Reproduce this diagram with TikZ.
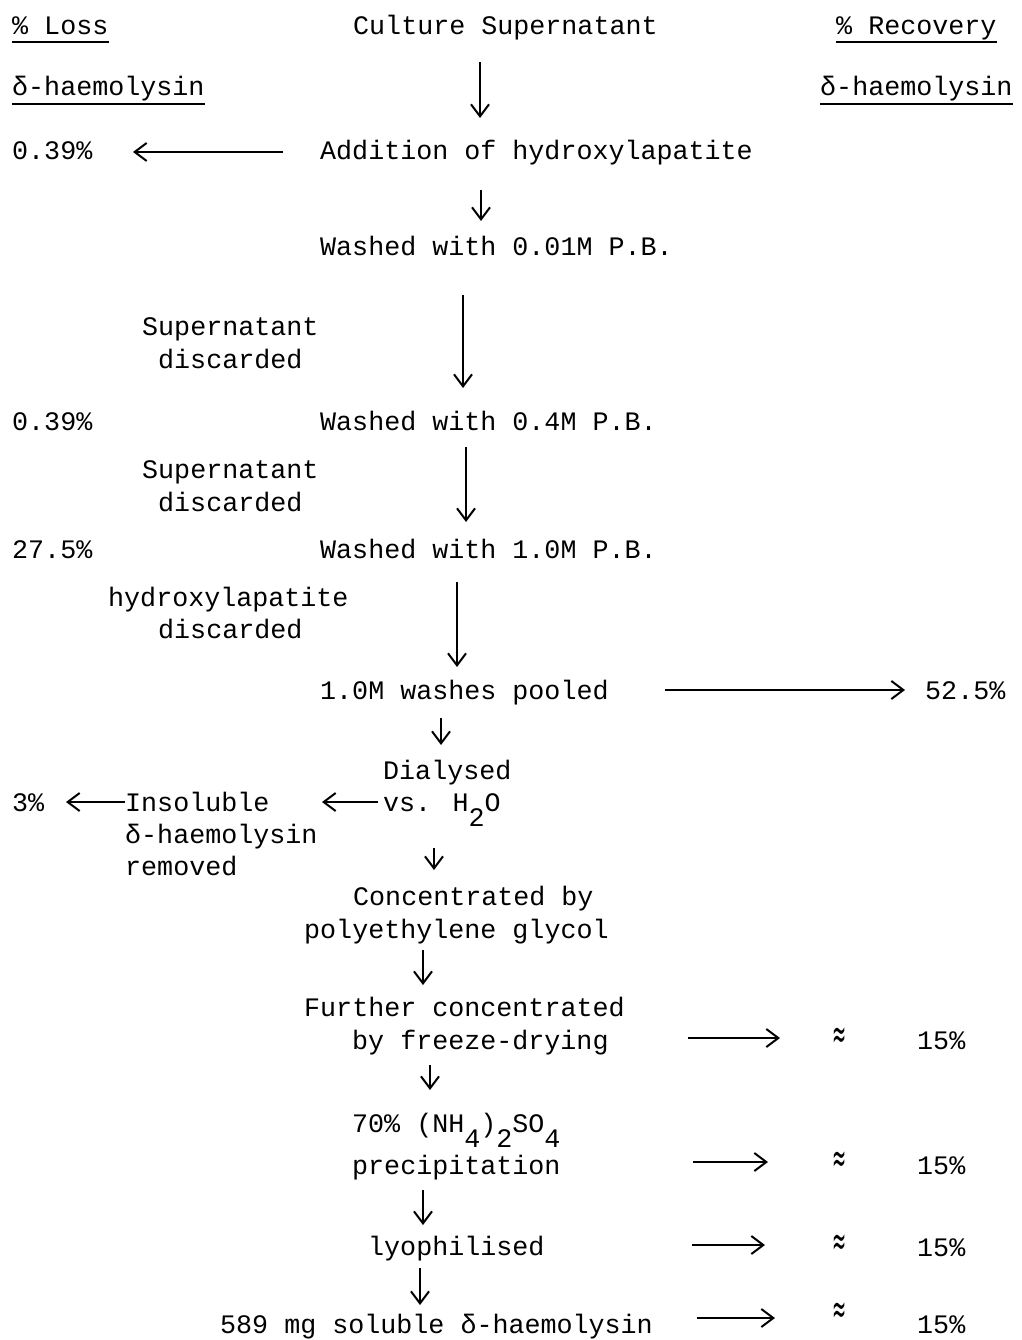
\documentclass[tikz,border=0pt]{standalone}
\usepackage{fontspec}
\usepackage{graphicx}
\setmainfont{Liberation Mono}
\newfontfamily\dvs{DejaVu Sans}
\usetikzlibrary{arrows.meta}
\newcommand\lowr[1]{\raisebox{-15pt}{#1}}
\newcommand\apsym{\scalebox{0.6}[1.5]{≈}}
\tikzset{
  tw/.style={inner sep=0pt, anchor=base west, font=\fontsize{26.7}{33}\selectfont},
  arr/.style={line width=2pt, -{Straight Barb[length=12pt,width=18pt,line width=2pt]}},
  ul/.style={line width=1.3pt},
  apx/.style={inner sep=0pt, font=\fontsize{28}{28}\selectfont\dvs}
}
\begin{document}
\begin{tikzpicture}[x=1pt,y=-1pt]
\useasboundingbox (0,0) rectangle (1021,1340);
% headers
\node[tw] (loss) at (12,35) {\% Loss};
\node[tw] (cs) at (353,35) {Culture Supernatant};
\node[tw] (rec) at (836,35) {\% Recovery};
\node[tw] (dl) at (12,96) {δ-haemolysin};
\node[tw] (dr) at (820,96) {δ-haemolysin};
\draw[ul] ([yshift=-7pt]loss.base west) -- ([yshift=-7pt]loss.base east);
\draw[ul] ([yshift=-7pt]rec.base west) -- ([yshift=-7pt]rec.base east);
\draw[ul] ([yshift=-8pt]dl.base west) -- ([yshift=-8pt]dl.base east);
\draw[ul] ([yshift=-8pt]dr.base west) -- ([yshift=-8pt]dr.base east);
% main column
\node[tw] (l1) at (12,160) {0.39\%};
\node[tw] (add) at (320,160) {Addition of hydroxylapatite};
\node[tw] (w1) at (320,255) {Washed with 0.01M P.B.};
\node[tw] (sd1a) at (142,335) {Supernatant};
\node[tw] (sd1b) at (158,368) {discarded};
\node[tw] (l2) at (12,430) {0.39\%};
\node[tw] (w2) at (320,430) {Washed with 0.4M P.B.};
\node[tw] (sd2a) at (142,478) {Supernatant};
\node[tw] (sd2b) at (158,511) {discarded};
\node[tw] (l3) at (12,558) {27.5\%};
\node[tw] (w3) at (320,558) {Washed with 1.0M P.B.};
\node[tw] (hd) at (108,606) {hydroxylapatite};
\node[tw] (hdb) at (158,638) {discarded};
\node[tw] (pool) at (320,699) {1.0M washes pooled};
\node[tw] (r1) at (925,699) {52.5\%};
\node[tw] (dia) at (383,779) {Dialysed};
\node[tw] (vs) at (383,811) {vs. H\lowr{2}O};
\node[tw] (ins) at (125,811) {Insoluble};
\node[tw] (ins2) at (125,843) {δ-haemolysin};
\node[tw] (ins3) at (125,875) {removed};
\node[tw] (l4) at (12,811) {3\%};
\node[tw] (conc1) at (353,905) {Concentrated by};
\node[tw] (conc2) at (304,938) {polyethylene glycol};
\node[tw] (fur1) at (304,1016) {Further concentrated};
\node[tw] (fur2) at (352,1049) {by freeze-drying};
\node[tw] (am1) at (352,1132) {70\% (NH\lowr{4})\lowr{2}SO\lowr{4}};
\node[tw] (am2) at (352,1174) {precipitation};
\node[tw] (lyo) at (368,1255) {lyophilised};
\node[tw] (fin) at (220,1333) {589 mg soluble δ-haemolysin};
% right column: approx signs
\node[apx] (ap1) at (840,1038) {\apsym};
\node[apx] (ap2) at (840,1162) {\apsym};
\node[apx] (ap3) at (840,1245) {\apsym};
\node[apx] (ap4) at (840,1313) {\apsym};
\node[tw] (p1) at (917,1049) {15\%};
\node[tw] (p2) at (917,1174) {15\%};
\node[tw] (p3) at (917,1256) {15\%};
\node[tw] (p4) at (917,1333) {15\%};
% arrow end points
\coordinate (a1s) at (480,62);  \coordinate (a1e) at (480,118);
\coordinate (a2s) at (481,190); \coordinate (a2e) at (481,221);
\coordinate (a3s) at (463,295); \coordinate (a3e) at (463,388);
\coordinate (a4s) at (466,447); \coordinate (a4e) at (466,522);
\coordinate (a5s) at (457,582); \coordinate (a5e) at (457,667);
\coordinate (a6s) at (441,718); \coordinate (a6e) at (441,745);
\coordinate (a7s) at (434,848); \coordinate (a7e) at (434,870);
\coordinate (a8s) at (423,950); \coordinate (a8e) at (423,985);
\coordinate (a9s) at (430,1065); \coordinate (a9e) at (430,1090);
\coordinate (a10s) at (423,1190); \coordinate (a10e) at (423,1225);
\coordinate (a11s) at (420,1268); \coordinate (a11e) at (420,1305);
\foreach \i in {1,...,11} {\draw[arr] (a\i s) -- (a\i e);}
% left arrows
\coordinate (b1s) at (283,152); \coordinate (b1e) at (133,152);
\coordinate (b2s) at (378,802); \coordinate (b2e) at (322,802);
\coordinate (b3s) at (125,802); \coordinate (b3e) at (66,802);
\foreach \i in {1,2,3} {\draw[arr] (b\i s) -- (b\i e);}
% right arrows
\coordinate (c1s) at (665,690); \coordinate (c1e) at (905,690);
\coordinate (c2s) at (688,1038); \coordinate (c2e) at (780,1038);
\coordinate (c3s) at (693,1162); \coordinate (c3e) at (768,1162);
\coordinate (c4s) at (692,1245); \coordinate (c4e) at (765,1245);
\coordinate (c5s) at (697,1318); \coordinate (c5e) at (775,1318);
\foreach \i in {1,...,5} {\draw[arr] (c\i s) -- (c\i e);}
\end{tikzpicture}
\end{document}
